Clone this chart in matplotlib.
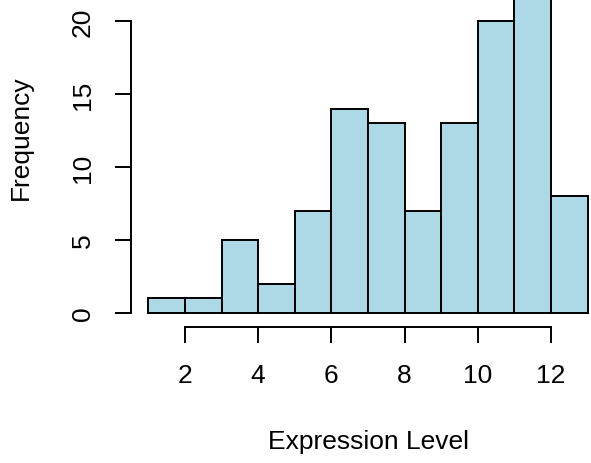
import matplotlib
matplotlib.use("Agg")
import matplotlib.pyplot as plt
import numpy as np

# Data
bin_edges = [1, 2, 3, 4, 5, 6, 7, 8, 9, 10, 11, 12, 13]
counts = [1, 1, 5, 2, 7, 14, 13, 7, 13, 20, 24, 8]
x_ticks = [2, 4, 6, 8, 10, 12]
y_ticks = [0, 5, 10, 15, 20]
x_label = "Expression Level"
y_label = "Frequency"

plt.rcParams['font.family'] = ['Liberation Sans', 'DejaVu Sans']

W, H = 591, 464
fig = plt.figure(figsize=(W / 100, H / 100), dpi=100)
ax = fig.add_axes([0, 0, 1, 1])

# pixel mapping from the reference
px_per_x = 36.6
x0_px = 148.3
px_per_y = 14.6
y0_px = 314.0
ax.set_xlim(1 - x0_px / px_per_x, 1 + (W - x0_px) / px_per_x)
ax.set_ylim((y0_px - H) / px_per_y, y0_px / px_per_y)

lefts = np.array(bin_edges[:-1])
widths = np.diff(bin_edges)
ax.bar(lefts, counts, width=widths, align='edge', color='#ADD8E6',
       edgecolor='black', linewidth=1.4, zorder=2)

for s in ['top', 'right']:
    ax.spines[s].set_visible(False)
ax.spines['left'].set_position(('data', 1 + (131 - x0_px) / px_per_x))
ax.spines['bottom'].set_position(('data', (y0_px - 328.3) / px_per_y))
ax.spines['left'].set_bounds(y_ticks[0], y_ticks[-1])
ax.spines['bottom'].set_bounds(x_ticks[0], x_ticks[-1])
for s in ['left', 'bottom']:
    ax.spines[s].set_linewidth(1.4)

FS = 19
ax.set_xticks(x_ticks)
ax.set_yticks(y_ticks)
ax.set_xticklabels([str(v) for v in x_ticks])
ax.set_yticklabels([str(v) for v in y_ticks], rotation=90, va='center')
ax.tick_params(axis='both', length=11.5, width=1.4, labelsize=FS, color='black')
ax.tick_params(axis='x', pad=14)
ax.tick_params(axis='y', pad=14.5)

ax.set_xlabel(x_label, fontsize=FS, va='center', ha='center')
ax.xaxis.set_label_coords(368 / W, 1 - 442.5 / H)
ax.set_ylabel(y_label, fontsize=FS, va='center', ha='center', rotation=90)
ax.yaxis.set_label_coords(21 / W, 1 - 137.5 / H)

fig.savefig("out.png", dpi=100)
